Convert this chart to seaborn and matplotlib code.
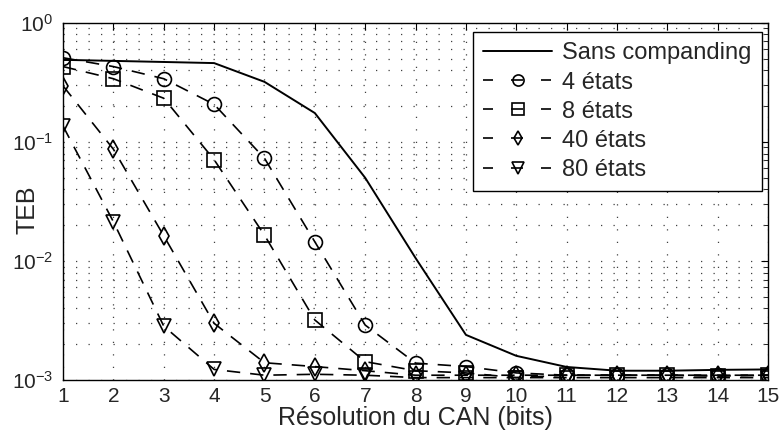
import matplotlib
matplotlib.use("Agg")
import matplotlib.pyplot as plt
import numpy as np
import pandas as pd
import seaborn as sns
from matplotlib.ticker import LogLocator, NullFormatter

sns.set_style("white")
plt.rcParams["font.family"] = ["Liberation Sans", "DejaVu Sans"]
plt.rcParams["mathtext.fontset"] = "custom"
plt.rcParams["mathtext.rm"] = "Liberation Sans"

bits = list(range(1, 16))
teb_sans = [0.49, 0.48, 0.47, 0.46, 0.32, 0.175, 0.05, 0.0106, 0.0024,
            0.0016, 0.00129, 0.0012, 0.0012, 0.00122, 0.00123]
teb_4 = [0.51, 0.43, 0.34, 0.207, 0.073, 0.0145, 0.0029, 0.00139, 0.0013,
         0.00115, 0.0011, 0.0011, 0.0011, 0.0011, 0.0011]
teb_8 = [0.43, 0.34, 0.233, 0.071, 0.0165, 0.0032, 0.00143, 0.0012, 0.00115,
         0.00105, 0.0011, 0.0011, 0.0011, 0.00108, 0.0011]
teb_40 = [0.296, 0.087, 0.0163, 0.0030, 0.0014, 0.0013, 0.0012, 0.0011,
          0.0011, 0.0011, 0.0011, 0.0011, 0.0011, 0.0011, 0.0011]
teb_80 = [0.136, 0.0214, 0.00284, 0.00123, 0.0011, 0.00112, 0.0011, 0.00105,
          0.00105, 0.00105, 0.00105, 0.00105, 0.00105, 0.00105, 0.00105]

labels = ["Sans companding", "4 états", "8 états", "40 états", "80 états"]
series = [teb_sans, teb_4, teb_8, teb_40, teb_80]
markers = [None, "o", "s", "d", "v"]

fig = plt.figure(figsize=(7.83, 4.41), dpi=100)
ax = fig.add_axes([0.0805, 0.138, 0.9005, 0.81])

for lab, vals, mk in zip(labels, series, markers):
    df = pd.DataFrame({"bits": bits, "teb": vals})
    if mk is None:
        sns.lineplot(data=df, x="bits", y="teb", ax=ax, color="k", lw=1.4,
                     label=lab)
    else:
        sns.lineplot(data=df, x="bits", y="teb", ax=ax, color="k", lw=1.2,
                     marker=mk, markersize=10 if mk != "d" else 9,
                     markerfacecolor="none", markeredgecolor="k",
                     markeredgewidth=1.2, linestyle=(0, (8, 6)), label=lab)

ax.set_yscale("log")
ax.set_xlim(1, 15)
ax.set_ylim(1e-3, 1)
ax.set_xticks(bits)
ax.yaxis.set_major_locator(LogLocator(base=10, numticks=10))
ax.yaxis.set_minor_locator(LogLocator(base=10, subs=np.arange(2, 10), numticks=20))
ax.yaxis.set_minor_formatter(NullFormatter())
ax.grid(True, which="major", color="0.25", linestyle=(0, (1, 9)), lw=0.9)
ax.grid(True, which="minor", axis="y", color="0.25", linestyle=(0, (1, 9)), lw=0.9)
ax.tick_params(which="both", direction="in", top=True, right=True,
               labelsize=15, color="k")
ax.tick_params(which="major", length=5, pad=5)
ax.tick_params(axis="y", which="major", pad=7)
ax.tick_params(which="minor", length=3)
for sp in ax.spines.values():
    sp.set_color("k")
    sp.set_linewidth(1.0)

ax.set_xlabel("Résolution du CAN (bits)", fontsize=18, labelpad=0)
ax.set_ylabel("TEB", fontsize=18)
ax.yaxis.set_label_coords(-0.034, 0.476)

leg = ax.legend(loc="upper right", fontsize=17, frameon=True, fancybox=False,
                edgecolor="k", framealpha=1, handlelength=2.9, markerscale=0.8,
                borderpad=0.45, labelspacing=0.3, handletextpad=0.45,
                borderaxespad=0, bbox_to_anchor=(0.992, 0.975))
leg.get_frame().set_linewidth(1.0)
# MATLAB-style legend entries: short dash, marker crossed by the line, short dash
for line in leg.get_lines()[1:]:
    line.set_linestyle((0, (6, 10.8, 7.2, 10.8)))

fig.savefig("out.png", dpi=100)
